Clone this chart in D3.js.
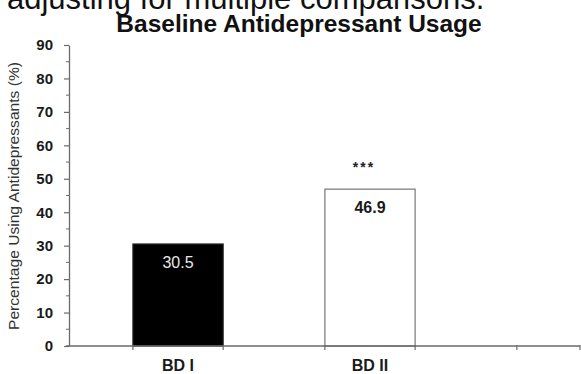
<!DOCTYPE html>
<html>
<head>
<meta charset="utf-8">
<script src="https://cdn.jsdelivr.net/npm/d3@7"></script>
<style>
  html, body { margin: 0; padding: 0; background: #fff; overflow: hidden; }
  svg { display: block; font-family: "Liberation Sans", Arial, Helvetica, sans-serif; }
</style>
</head>
<body>
<svg id="chart" width="581" height="374"></svg>
<script>
// ---- data ----
const categories = ["BD I", "BD II", ""];
const values = [30.5, 46.9, null];
const valueLabels = ["30.5", "46.9", ""];
const significance = ["", "***", ""];
const yTicks = [0, 10, 20, 30, 40, 50, 60, 70, 80, 90];
const yMinorTicks = [5, 15, 25, 35, 45, 55, 65, 75, 85];
const chartTitle = "Baseline Antidepressant Usage";
const yAxisTitle = "Percentage Using Antidepressants (%)";
const topCaption = "adjusting for multiple comparisons.";

// ---- layout ----
const W = 581, H = 374;
const axisX = 69, axisBottom = 346, axisTop = 45, axisRight = 580;
const svg = d3.select("#chart");

const y = d3.scaleLinear().domain([0, 90]).range([axisBottom, axisTop]);
const x = d3.scaleBand().domain(categories).range([axisX, 671])
  .paddingInner(0.53).paddingOuter(0.333);

const axisColor = "#6a6a6a";

// caption cut off at top
svg.append("text").attr("x", 7).attr("y", 9)
  .attr("font-size", 31).attr("fill", "#111").text(topCaption);

// title
svg.append("text").attr("x", 299).attr("y", 32).attr("text-anchor", "middle")
  .attr("font-size", 24.5).attr("font-weight", "bold").attr("fill", "#111")
  .text(chartTitle);

// bars
const barFill = ["#000", "#fff", "none"];
const barStroke = ["#222", "#777", "none"];
svg.append("g").selectAll("rect")
  .data(categories.map((c, i) => ({ c, v: values[i], i })).filter(d => d.v != null))
  .join("rect")
  .attr("x", d => x(d.c))
  .attr("y", d => y(d.v))
  .attr("width", x.bandwidth())
  .attr("height", d => y(0) - y(d.v))
  .attr("fill", d => barFill[d.i])
  .attr("stroke", d => barStroke[d.i])
  .attr("stroke-width", 1.2);

// value labels inside bars
const labelFill = ["#e8e8e8", "#1a1a1a", "#000"];
const labelWeight = ["normal", "bold", "normal"];
svg.append("g").selectAll("text")
  .data(categories.map((c, i) => ({ c, v: values[i], i })).filter(d => d.v != null))
  .join("text")
  .attr("x", d => x(d.c) + x.bandwidth() / 2)
  .attr("y", d => y(d.v) + 24)
  .attr("text-anchor", "middle")
  .attr("font-size", 16)
  .attr("font-weight", d => labelWeight[d.i])
  .attr("fill", d => labelFill[d.i])
  .text(d => valueLabels[d.i]);

// significance stars
svg.append("g").selectAll("text")
  .data(categories.map((c, i) => ({ c, v: values[i], i })).filter(d => d.v != null && significance[d.i]))
  .join("text")
  .attr("x", d => x(d.c) + x.bandwidth() / 2 - 6)
  .attr("y", d => y(d.v) - 17)
  .attr("text-anchor", "middle")
  .attr("font-size", 14)
  .attr("font-weight", "bold")
  .attr("letter-spacing", 2)
  .attr("fill", "#222")
  .text(d => significance[d.i]);

// y axis
const yAxisG = svg.append("g").attr("transform", `translate(${axisX},0)`);
yAxisG.call(d3.axisLeft(y).tickValues(yTicks).tickSize(5).tickSizeOuter(0).tickFormat(d3.format("d")));
yAxisG.select(".domain").attr("stroke", axisColor).attr("stroke-width", 1.3);
yAxisG.selectAll(".tick line").attr("stroke", axisColor).attr("stroke-width", 1.2);
yAxisG.selectAll(".tick text")
  .attr("x", -16)
  .attr("font-size", 15).attr("font-weight", "bold").attr("fill", "#1a1a1a")
  .attr("font-family", "'Liberation Sans', Arial, sans-serif");
yAxisG.selectAll(".minor").data(yMinorTicks).join("line")
  .attr("class", "minor")
  .attr("x1", -3).attr("x2", 0)
  .attr("y1", d => y(d)).attr("y2", d => y(d))
  .attr("stroke", axisColor).attr("stroke-width", 1);

// x axis line
svg.append("line")
  .attr("x1", axisX - 3).attr("x2", axisRight)
  .attr("y1", y(0)).attr("y2", y(0))
  .attr("stroke", axisColor).attr("stroke-width", 1.3);

// x ticks at band edges
const edgeTicks = [];
categories.forEach(c => {
  [x(c), x(c) + x.bandwidth()].forEach(p => { if (p <= axisRight) edgeTicks.push(p); });
});
edgeTicks.push(axisRight);
svg.append("g").selectAll("line").data(edgeTicks).join("line")
  .attr("x1", d => d).attr("x2", d => d)
  .attr("y1", y(0) - 1).attr("y2", y(0) + 4)
  .attr("stroke", axisColor).attr("stroke-width", 1.2);

// category labels
svg.append("g").selectAll("text").data(categories.filter(c => c)).join("text")
  .attr("x", d => x(d) + x.bandwidth() / 2)
  .attr("y", 371)
  .attr("text-anchor", "middle")
  .attr("font-size", 16).attr("font-weight", "bold").attr("fill", "#1a1a1a")
  .text(d => d);

// y axis title
svg.append("text")
  .attr("transform", `translate(19,196) rotate(-90)`)
  .attr("text-anchor", "middle")
  .attr("font-size", 14)
  .attr("textLength", 268).attr("lengthAdjust", "spacingAndGlyphs")
  .attr("fill", "#333")
  .text(yAxisTitle);
</script>
</body>
</html>
